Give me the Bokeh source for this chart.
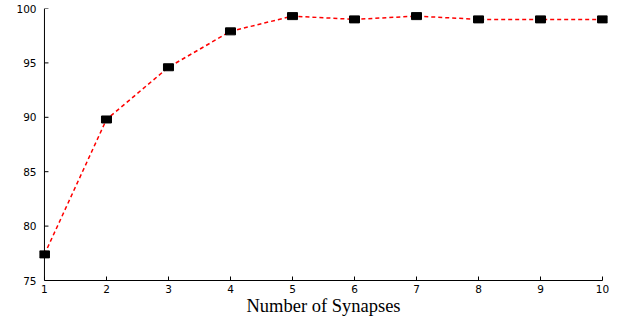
from bokeh.plotting import figure
from bokeh.models import Range1d, FixedTicker, Span
from bokeh.embed import file_html
from bokeh.resources import INLINE

synapses = [1, 2, 3, 4, 5, 6, 7, 8, 9, 10]
accuracy = [77.4, 89.8, 94.6, 97.9, 99.3, 99.0, 99.3, 99.0, 99.0, 99.0]
x_ticks = [1, 2, 3, 4, 5, 6, 7, 8, 9, 10]
y_ticks = [75, 80, 85, 90, 95, 100]

p = figure(width=622, height=320, output_backend="svg", toolbar_location=None,
           x_range=Range1d(0.92, 10.08), y_range=Range1d(75, 100))
p.min_border_left = 39
p.min_border_right = 15
p.min_border_top = 8
p.min_border_bottom = 40
p.outline_line_color = None
p.grid.visible = False
p.background_fill_color = "white"
p.border_fill_color = "white"

# y axis line drawn at x = 1 (the data origin), like the reference
p.add_layout(Span(location=1, dimension="height", line_color="black", line_width=1))
p.ray(x=[1] * len(y_ticks), y=y_ticks, length=4, length_units="screen", angle=0,
      line_color="black", line_width=1)

p.line(synapses, accuracy, line_color="red", line_dash="4 3", line_width=1.5)
p.rect(synapses, accuracy, width=10, height=7, width_units="screen", height_units="screen",
       fill_color="black", line_color="black")

for ax in (p.xaxis[0], p.yaxis[0]):
    ax.minor_tick_line_color = None
    ax.major_label_text_font = "DejaVu Sans"
    ax.major_label_text_font_size = "10.5px"
    ax.major_label_text_color = "black"

p.xaxis.bounds = (1, 10)
p.xaxis.major_tick_in = 4
p.xaxis.major_tick_out = 0
p.xaxis.axis_line_color = "black"
p.xaxis.major_tick_line_color = "black"
p.yaxis.axis_line_color = None
p.yaxis.major_tick_line_color = None
p.yaxis.major_tick_in = 0
p.yaxis.major_tick_out = 0

p.xaxis.ticker = FixedTicker(ticks=x_ticks)
p.yaxis.ticker = FixedTicker(ticks=y_ticks)
p.xaxis.major_label_standoff = 4
p.yaxis.major_label_standoff = 3
p.xaxis.axis_label = "Number of Synapses"
p.xaxis.axis_label_text_font = "Liberation Serif"
p.xaxis.axis_label_text_font_style = "normal"
p.xaxis.axis_label_text_font_size = "18.5px"
p.xaxis.axis_label_text_color = "black"
p.xaxis.axis_label_standoff = 0

open("out.html", "w").write(file_html(p, INLINE))
